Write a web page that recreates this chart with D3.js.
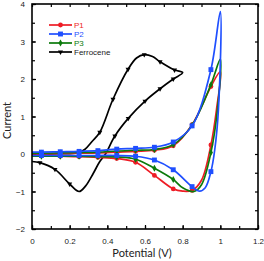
<!DOCTYPE html>
<html>
<head>
<meta charset="utf-8">
<script src="https://cdn.jsdelivr.net/npm/d3@7"></script>
<style>
  body { margin: 0; background: #fff; }
  text { font-family: Arial, "Liberation Sans", sans-serif; }
</style>
</head>
<body>
<div id="chart"></div>
<script>
"use strict";

// == DATA ==
var xTicks = [0, 0.2, 0.4, 0.6, 0.8, 1, 1.2];
var yTicks = [-2, -1, 0, 1, 2, 3, 4];
var names = ["P1", "P2", "P3", "Ferrocene"];
var colors = ["#ee1c25", "#1f4fff", "#0b7a0b", "#000000"];

// forward (upper) then reverse (lower) scan, [potential, current]
var p1 = [[0, 0.0], [0.05, 0.0], [0.15, 0.01], [0.25, 0.02], [0.35, 0.03], [0.45, 0.05], [0.55, 0.07], [0.65, 0.1],
	[0.75, 0.22], [0.85, 0.78], [0.95, 1.8], [1.0, 2.2],
	[0.98, 1.2], [0.95, 0.24], [0.9, -0.7], [0.85, -0.97], [0.8, -0.99], [0.75, -0.93], [0.65, -0.57], [0.55, -0.22],
	[0.45, -0.12], [0.35, -0.09], [0.25, -0.07], [0.15, -0.06], [0.05, -0.05], [0, -0.05]];
var p2 = [[0, 0.05], [0.05, 0.05], [0.15, 0.06], [0.25, 0.07], [0.35, 0.09], [0.45, 0.13], [0.55, 0.15], [0.65, 0.18],
	[0.75, 0.32], [0.85, 0.75], [0.95, 2.25], [1.0, 3.8],
	[0.99, 1.2], [0.97, 0.1], [0.95, -0.47], [0.92, -0.9], [0.89, -0.99], [0.85, -0.87], [0.75, -0.42], [0.65, -0.16],
	[0.55, -0.06], [0.45, -0.04], [0.35, -0.04], [0.25, -0.04], [0.15, -0.04], [0.05, -0.04], [0, -0.04]];
var p3 = [[0, 0.02], [0.05, 0.02], [0.15, 0.03], [0.25, 0.04], [0.35, 0.05], [0.45, 0.08], [0.55, 0.1], [0.65, 0.12],
	[0.75, 0.25], [0.85, 0.77], [0.95, 1.85], [1.0, 2.53],
	[0.985, 1.2], [0.95, 0.04], [0.9, -0.82], [0.86, -1.0], [0.8, -0.9], [0.75, -0.68], [0.65, -0.38], [0.55, -0.14],
	[0.45, -0.08], [0.35, -0.07], [0.25, -0.06], [0.15, -0.06], [0.05, -0.06], [0, -0.06]];
var ferrocene = [[0, 0.0], [0.05, 0.0], [0.15, 0.01], [0.24, 0.03], [0.28, 0.12], [0.32, 0.34], [0.36, 0.58],
	[0.43, 1.46], [0.51, 2.26], [0.555, 2.56], [0.596, 2.65], [0.64, 2.6], [0.68, 2.46], [0.757, 2.24], [0.8, 2.17],
	[0.75, 2.0], [0.68, 1.74], [0.6, 1.41], [0.511, 0.95], [0.44, 0.48], [0.39, 0.0], [0.36, -0.2], [0.325, -0.52],
	[0.285, -0.85], [0.25, -1.0], [0.2, -0.8], [0.122, -0.41], [0.042, -0.23], [0, -0.2]];
var ferroceneMarks = [1, 2, 6, 7, 8, 10, 12, 13, 15, 16, 17, 18, 19, 25, 26, 27];

// == BOILERPLATE ==
var W = 264, H = 261;
var margin = { top: 4, right: 6, bottom: 32, left: 32 },
	width = W - margin.left - margin.right,
	height = H - margin.top - margin.bottom;

var svg = d3.select("#chart").append("svg")
	.attr("width", W).attr("height", H)
	.append("g")
	.attr("transform", "translate(" + margin.left + "," + margin.top + ")");

var x = d3.scaleLinear().domain([0, 1.2]).range([0, width]);
var y = d3.scaleLinear().domain([-2, 4]).range([height, 0]);

// axes, ticks pointing inward
function styleAxis(g) {
	g.select(".domain").remove();
	g.selectAll("line").attr("stroke", "#000").attr("stroke-width", 1.2);
	g.selectAll("text").attr("font-size", 8).attr("fill", "#222");
}
var minorX = d3.range(0, 1.21, 0.1), minorY = d3.range(-2, 4.01, 0.5);

svg.append("g").attr("transform", "translate(0," + height + ")")
	.call(d3.axisBottom(x).tickValues(minorX).tickSize(-3).tickFormat(""))
	.call(styleAxis);
svg.append("g").attr("transform", "translate(0," + height + ")")
	.call(d3.axisBottom(x).tickValues(xTicks).tickSize(-4).tickPadding(9).tickFormat(d3.format("")))
	.call(styleAxis);
svg.append("g")
	.call(d3.axisTop(x).tickValues(minorX).tickSize(-3).tickFormat(""))
	.call(styleAxis);
svg.append("g")
	.call(d3.axisLeft(y).tickValues(minorY).tickSize(-3).tickFormat(""))
	.call(styleAxis);
svg.append("g")
	.call(d3.axisLeft(y).tickValues(yTicks).tickSize(-4).tickPadding(7).tickFormat(d3.format("")))
	.call(styleAxis);
svg.append("g").attr("transform", "translate(" + width + ",0)")
	.call(d3.axisRight(y).tickValues(minorY).tickSize(-3).tickFormat(""))
	.call(styleAxis);

svg.append("defs").append("clipPath").attr("id", "clip")
	.append("rect").attr("width", width).attr("height", height);

var plot = svg.append("g").attr("clip-path", "url(#clip)");

var line = d3.line()
	.x(function (d) { return x(d[0]); })
	.y(function (d) { return y(d[1]); })
	.curve(d3.curveCatmullRom.alpha(0.5));

var series = [
	{ data: p1, sym: d3.symbolCircle, size: 18 },
	{ data: p2, sym: d3.symbolSquare, size: 24 },
	{ data: p3, sym: d3.symbolDiamond, size: 14 },
	{ data: ferrocene, sym: d3.symbolTriangle, size: 11, marks: ferroceneMarks }
];

// draw order: ferrocene, P1, P3, P2 roughly like the original
[3, 0, 2, 1].forEach(function (i) {
	var s = series[i];
	plot.append("path").datum(s.data)
		.attr("d", line)
		.attr("fill", "none")
		.attr("stroke", colors[i])
		.attr("stroke-width", 1.7);
	var pts = s.marks ? s.marks.map(function (k) { return s.data[k]; })
		: s.data.filter(function (d) { return Math.abs(Math.round(d[0] * 100) % 10 - 5) === 0; });
	plot.selectAll(".m" + i).data(pts).enter().append("path")
		.attr("class", "m" + i)
		.attr("transform", function (d) {
			return "translate(" + x(d[0]) + "," + y(d[1]) + ")" + (i === 3 ? " rotate(180)" : "");
		})
		.attr("d", d3.symbol().type(s.sym).size(s.size))
		.attr("fill", colors[i]);
});

// frame
svg.append("rect").attr("width", width).attr("height", height)
	.attr("fill", "none").attr("stroke", "#000").attr("stroke-width", 1.6);

// axis titles
svg.append("text")
	.attr("x", width / 2 - 3).attr("y", height + 28)
	.attr("text-anchor", "middle").attr("font-size", 11).attr("fill", "#222")
	.style("font-family", "Lato, 'Open Sans', sans-serif")
	.text("Potential (V)");
svg.append("text")
	.attr("transform", "translate(-21.5," + (y(1) + 4) + ") rotate(-90)")
	.attr("text-anchor", "middle").attr("font-size", 11).attr("fill", "#222")
	.style("font-family", "Lato, 'Open Sans', sans-serif")
	.text("Current");

// legend
var leg = svg.append("g").attr("transform", "translate(17,21)");
names.forEach(function (n, i) {
	var g = leg.append("g").attr("transform", "translate(0," + (i * 9) + ")");
	g.append("line").attr("x1", 0).attr("x2", 23).attr("stroke", colors[i]).attr("stroke-width", 1.7);
	g.append("path").attr("transform", "translate(11.5,0)" + (i === 3 ? " rotate(180)" : ""))
		.attr("d", d3.symbol().type(series[i].sym).size(series[i].size)).attr("fill", colors[i]);
	g.append("text").attr("x", 25).attr("y", 3).attr("font-size", 8)
		.attr("fill", i === 3 ? "#222" : colors[i]).text(n);
});
</script>
</body>
</html>
